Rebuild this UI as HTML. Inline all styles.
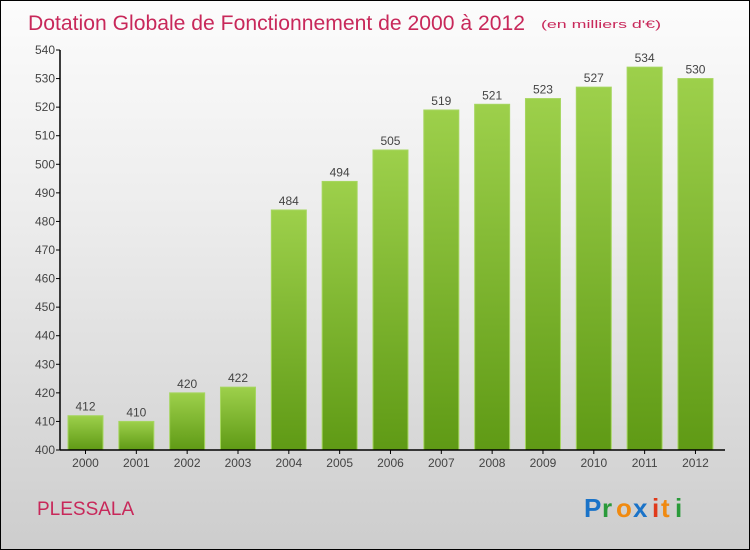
<!DOCTYPE html>
<html><head><meta charset="utf-8"><style>
body{margin:0;}
#wrap{position:relative;width:748px;height:548px;border:1px solid #000;background:linear-gradient(#fcfcfc,#ececec 40%,#cdcdcd);overflow:hidden;font-family:"Liberation Sans",sans-serif;}
</style></head><body>
<div id="wrap">
<svg width="748" height="548" id="svg">
<defs><linearGradient id="bg" x1="0" y1="0" x2="0" y2="1"><stop offset="0" stop-color="#9dd04b"/><stop offset="1" stop-color="#5f9a15"/></linearGradient></defs>
<text x="27" y="29" font-size="21" fill="#c8285a" textLength="497" lengthAdjust="spacingAndGlyphs">Dotation Globale de Fonctionnement de 2000 à 2012</text>
<text x="540" y="27" font-size="11" fill="#c8285a" textLength="120" lengthAdjust="spacingAndGlyphs">(en milliers d'€)</text>
<text x="36" y="514" font-size="19" fill="#c8285a">PLESSALA</text>
<g font-size="26" font-weight="bold">
<text x="583" y="516" fill="#1a73c8">P</text><text x="601" y="516" fill="#2a9a3a">r</text><text x="615" y="516" fill="#f08a10">o</text><text x="632" y="516" fill="#1a73c8">x</text><text x="651" y="516" fill="#e03a1a">i</text><text x="660" y="516" fill="#f08a10">t</text><text x="674" y="516" fill="#2a9a3a">i</text>
</g>
<g id="plot"></g>
</svg>
</div>
<script>
const years=["2000","2001","2002","2003","2004","2005","2006","2007","2008","2009","2010","2011","2012"];
const values=[412,410,420,422,484,494,505,519,521,523,527,534,530];
const yTicks=[400,410,420,430,440,450,460,470,480,490,500,510,520,530,540];
const NS="http://www.w3.org/2000/svg";
const g=document.getElementById('plot');
const y=v=>449-(v-400)*(400/140);
const x=i=>84.5+i*50.83;
function el(t,a,txt){const e=document.createElementNS(NS,t);for(const k in a)e.setAttribute(k,a[k]);if(txt!=null)e.textContent=txt;g.appendChild(e);return e;}
values.forEach((v,i)=>{
 const r=el('rect',{x:x(i)-17.5,y:y(v),width:35,height:y(400)-y(v),fill:'url(#bg)',stroke:'#a6d660','stroke-width':1});
 
 
 const t=el('text',{x:x(i),y:y(v)-5,'text-anchor':'middle','font-size':12,fill:'#444'},v);
 
 
 const xl=el('text',{x:x(i),y:466,'text-anchor':'middle','font-size':12,fill:'#444'},years[i]);
 
 
 el('line',{x1:x(i),x2:x(i),y1:449,y2:453,stroke:'#000'});
});
yTicks.forEach(v=>{
 el('line',{x1:55,x2:59,y1:y(v),y2:y(v),stroke:'#000'});
 const t=el('text',{x:54,y:y(v)+4,'text-anchor':'end','font-size':12,fill:'#444'},v);
 
 
});
const ya=el('line',{x1:59,x2:59,y1:y(540),y2:449,stroke:'#000','stroke-width':1.5});


const xa=el('line',{x1:59,x2:724,y1:449,y2:449,stroke:'#000','stroke-width':1.5});


</script>
</body></html>
